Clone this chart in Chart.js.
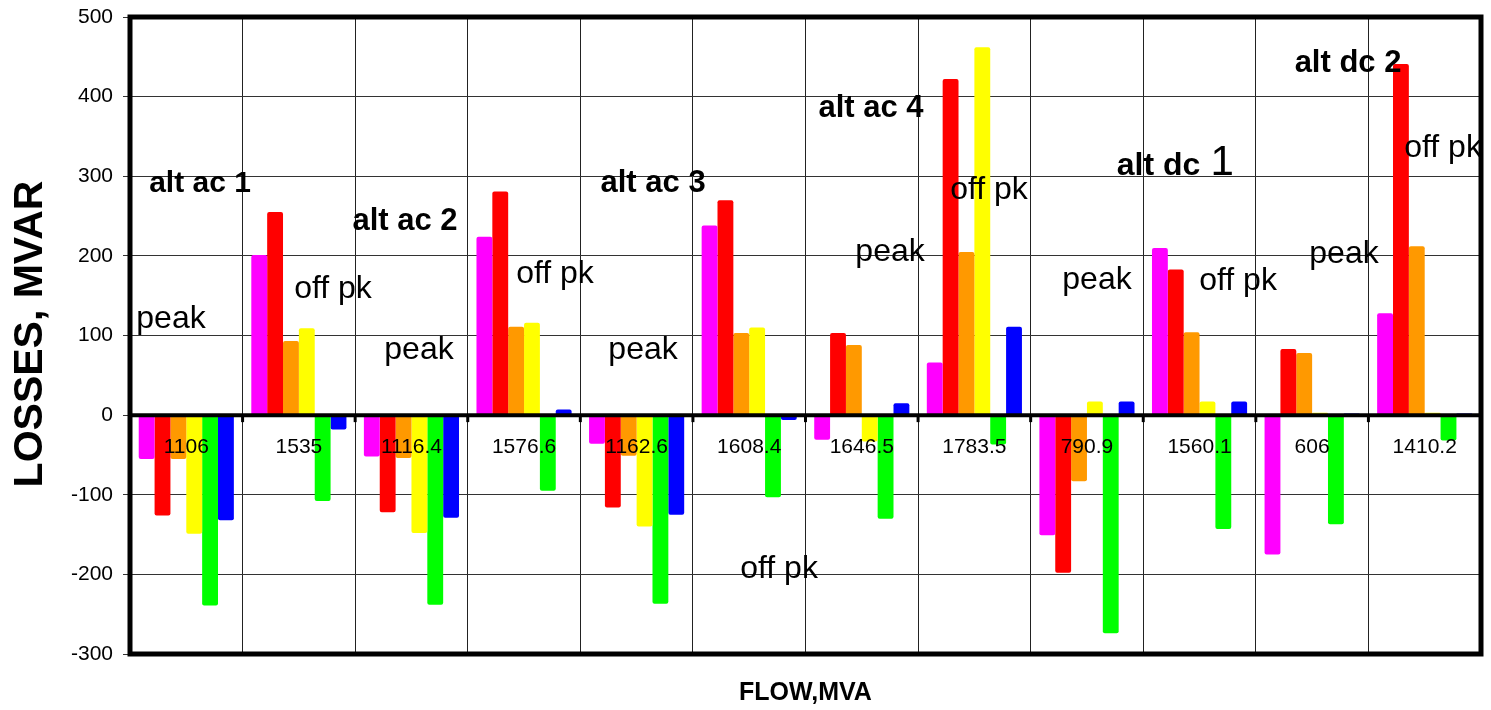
<!DOCTYPE html>
<html>
  <head>
    <meta charset="utf-8">
    <title>Losses vs Flow</title>
    <script src="https://cdn.jsdelivr.net/npm/chart.js@4.4.1/dist/chart.umd.min.js"></script>
    <style>
      html, body { margin: 0; padding: 0; background: #fff; }
      #wrap { width: 1491px; height: 710px; }
    </style>
  </head>
  <body>
    <div id="wrap"><canvas id="myChart" width="1491" height="710"></canvas></div>
    <script>
      // flow (MVA) for each case
      var flows = ['1106', '1535', '1116.4', '1576.6', '1162.6', '1608.4', '1646.5', '1783.5', '790.9', '1560.1', '606', '1410.2'];

      // losses, MVAR - one array per colour
      var lossMagenta = [-55, 201, -52, 224, -36, 238, -31, 66, -151, 210, -175, 128];
      var lossRed     = [-126, 255, -122, 281, -116, 270, 103, 422, -198, 183, 83, 441];
      var lossOrange  = [-55, 93, -54, 111, -51, 103, 88, 205, -83, 104, 78, 212];
      var lossYellow  = [-149, 109, -148, 116, -140, 110, -33, 462, 17, 17, 3, 3];
      var lossGreen   = [-239, -108, -238, -95, -237, -103, -130, -37, -274, -143, -137, -32];
      var lossBlue    = [-132, -18, -129, 7, -125, -6, 15, 111, 17, 17, 2, 2];

      var yTicks = [-300, -200, -100, 0, 100, 200, 300, 400, 500];

      // text notes inside the plot (category position, value of baseline)
      var noteText = ['alt ac 1', 'peak', 'off pk', 'alt ac 2', 'peak', 'off pk', 'alt ac 3', 'peak', 'off pk',
                      'alt ac 4', 'peak', 'off pk', 'peak', 'alt dc', '1', 'off pk', 'alt dc 2', 'peak', 'off pk'];
      var noteCat  = [0.122, -0.136, 1.303, 1.943, 2.067, 3.275, 4.146, 4.057, 5.265,
                      6.082, 6.251, 7.130, 8.089, 8.636, 9.200, 9.342, 10.319, 10.283, 11.163];
      var noteVal  = [280, 109, 147, 232, 70, 166, 280, 70, -205,
                      375, 193, 272, 159, 301, 301, 157, 431, 191, 324];
      var noteBold = [1, 0, 0, 1, 0, 0, 1, 0, 0, 1, 0, 0, 0, 1, 0, 0, 1, 0, 0];
      var noteSize = [30, 32, 32, 31, 32, 32, 31, 32, 32, 31, 32, 32, 32, 32, 42, 32, 31, 32, 32];

      var FONT = "'Liberation Sans', Arial, sans-serif";

      var framePlugin = {
        id: 'frame',
        afterDatasetsDraw: function (chart) {
          var c = chart.ctx, a = chart.chartArea;
          var xs = chart.scales.x, ys = chart.scales.y;
          var y0 = ys.getPixelForValue(0);
          c.save();
          // zero line
          c.strokeStyle = '#000';
          c.lineWidth = 4;
          c.beginPath();
          c.moveTo(a.left, y0);
          c.lineTo(a.right, y0);
          c.stroke();
          // little ticks on the zero line
          c.lineWidth = 3;
          for (var i = 1; i < flows.length; i++) {
            var bx = (xs.getPixelForValue(i - 1) + xs.getPixelForValue(i)) / 2;
            c.beginPath();
            c.moveTo(bx, y0);
            c.lineTo(bx, y0 + 7);
            c.stroke();
          }
          // category labels sitting under the zero line
          c.fillStyle = '#000';
          c.font = '21px ' + FONT;
          c.textAlign = 'center';
          c.textBaseline = 'middle';
          for (var j = 0; j < flows.length; j++) {
            c.fillText(flows[j], xs.getPixelForValue(j), y0 + 32);
          }
          // notes
          c.textBaseline = 'alphabetic';
          for (var k = 0; k < noteText.length; k++) {
            c.font = (noteBold[k] ? 'bold ' : '') + noteSize[k] + 'px ' + FONT;
            c.fillText(noteText[k], xs.getPixelForValue(noteCat[k]), ys.getPixelForValue(noteVal[k]));
          }
          c.restore();
        },
        afterDraw: function (chart) {
          var c = chart.ctx, a = chart.chartArea;
          c.save();
          c.strokeStyle = '#000';
          c.lineWidth = 5;
          c.strokeRect(a.left, a.top, a.right - a.left, a.bottom - a.top);
          // axis titles
          c.fillStyle = '#000';
          c.textAlign = 'center';
          c.textBaseline = 'middle';
          c.font = 'bold 25px ' + FONT;
          c.fillText('FLOW,MVA', (a.left + a.right) / 2, 693);
          c.translate(31, 334);
          c.rotate(-Math.PI / 2);
          c.font = 'bold 41px ' + FONT;
          c.fillText('LOSSES, MVAR', 0, 0);
          c.restore();
        }
      };

      function mk(data, color) {
        return {
          data: data,
          backgroundColor: color,
          borderWidth: 0,
          borderRadius: 2,
          barPercentage: 1.0,
          categoryPercentage: 0.845
        };
      }

      var ctx = document.getElementById('myChart');
      var myChart = new Chart(ctx, {
        type: 'bar',
        data: {
          labels: flows,
          datasets: [
            mk(lossMagenta, '#FF00FF'),
            mk(lossRed, '#FF0000'),
            mk(lossOrange, '#FF9900'),
            mk(lossYellow, '#FFFF00'),
            mk(lossGreen, '#00FF00'),
            mk(lossBlue, '#0000FF')
          ]
        },
        options: {
          responsive: false,
          animation: false,
          layout: { padding: { top: 17, right: 10, left: 0, bottom: 0 } },
          plugins: { legend: { display: false }, tooltip: { enabled: false } },
          scales: {
            x: {
              ticks: { display: false },
              grid: { color: '#222', lineWidth: 1, drawTicks: false, offset: true },
              border: { display: false },
              afterFit: function (s) { s.height = 56; s.paddingLeft = 0; s.paddingRight = 0; }
            },
            y: {
              min: yTicks[0],
              max: yTicks[yTicks.length - 1],
              afterBuildTicks: function (s) { s.ticks = yTicks.map(function (v) { return { value: v }; }); },
              ticks: { color: '#000', font: { family: FONT, size: 21 }, padding: 10 },
              grid: { color: '#333', lineWidth: 1, tickLength: 7 },
              border: { display: false },
              afterFit: function (s) { s.width = 130; s.paddingTop = 0; s.paddingBottom = 0; }
            }
          }
        },
        plugins: [framePlugin]
      });
    </script>
  </body>
</html>
